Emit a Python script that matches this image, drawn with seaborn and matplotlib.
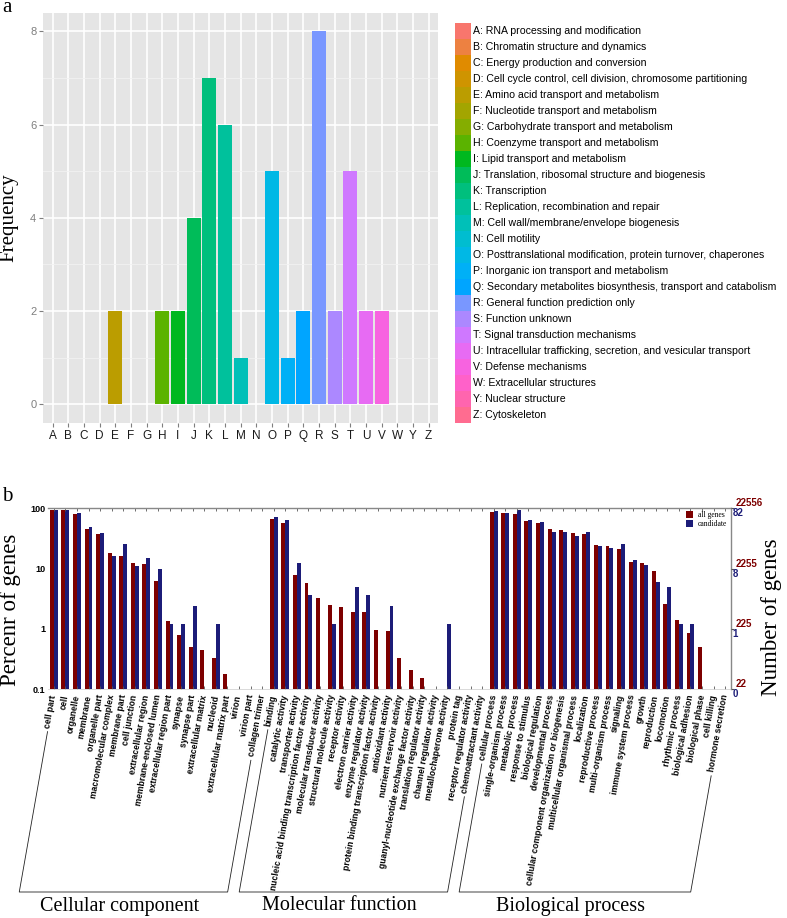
import numpy as np
import pandas as pd
import seaborn as sns
import matplotlib.pyplot as plt
from matplotlib.patches import Patch
from matplotlib.lines import Line2D
from matplotlib.ticker import NullLocator

# ---- panel a: COG classes ----
cog_letters = ["A", "B", "C", "D", "E", "F", "G", "H", "I", "J", "K", "L", "M",
               "N", "O", "P", "Q", "R", "S", "T", "U", "V", "W", "Y", "Z"]
cog_names = [
    "RNA processing and modification",
    "Chromatin structure and dynamics",
    "Energy production and conversion",
    "Cell cycle control, cell division, chromosome partitioning",
    "Amino acid transport and metabolism",
    "Nucleotide transport and metabolism",
    "Carbohydrate transport and metabolism",
    "Coenzyme transport and metabolism",
    "Lipid transport and metabolism",
    "Translation, ribosomal structure and biogenesis",
    "Transcription",
    "Replication, recombination and repair",
    "Cell wall/membrane/envelope biogenesis",
    "Cell motility",
    "Posttranslational modification, protein turnover, chaperones",
    "Inorganic ion transport and metabolism",
    "Secondary metabolites biosynthesis, transport and catabolism",
    "General function prediction only",
    "Function unknown",
    "Signal transduction mechanisms",
    "Intracellular trafficking, secretion, and vesicular transport",
    "Defense mechanisms",
    "Extracellular structures",
    "Nuclear structure",
    "Cytoskeleton",
]
cog_freq = [0, 0, 0, 0, 2, 0, 0, 2, 2, 4, 7, 6, 1, 0, 5, 1, 2, 8, 2, 5, 2, 2, 0, 0, 0]

# ---- panel b: GO categories ----
nan = np.nan
cc_terms = ["cell part", "cell", "organelle", "membrane", "organelle part",
            "macromolecular complex", "membrane part", "cell junction",
            "extracellular region", "membrane-enclosed lumen",
            "extracellular region part", "synapse", "synapse part",
            "extracellular matrix", "nucleoid", "extracellular matrix part",
            "virion", "virion part", "collagen trimer"]
cc_all = [93, 92, 80, 45, 37, 17.9, 16, 12.2, 12, 6.2, 1.37, 0.8, 0.5, 0.44,
          0.33, 0.18, nan, nan, nan]
cc_cand = [94, 92, 84, 49, 39, 16.4, 26, 11.2, 15, 10, 1.22, 1.22, 2.44, nan,
           1.22, nan, nan, nan, nan]

mf_terms = ["binding", "catalytic activity", "transporter activity",
            "nucleic acid binding transcription factor activity",
            "molecular transducer activity", "structural molecule activity",
            "receptor activity", "electron carrier activity",
            "enzyme regulator activity",
            "protein binding transcription factor activity",
            "antioxidant activity", "nutrient reservoir activity",
            "guanyl-nucleotide exchange factor activity",
            "translation regulator activity", "channel regulator activity",
            "metallochaperone activity", "protein tag",
            "receptor regulator activity", "chemoattractant activity"]
mf_all = [66, 56, 7.7, 5.8, 3.3, 2.5, 2.3, 1.9, 1.9, 0.97, 0.92, 0.33, 0.21,
          0.155, nan, nan, nan, nan, nan]
mf_cand = [71, 64, 12.6, 3.7, nan, 1.22, nan, 4.9, 3.7, nan, 2.44, nan, nan,
           nan, nan, 1.22, nan, nan, nan]

bp_terms = ["cellular process", "single-organism process", "metabolic process",
            "response to stimulus", "biological regulation",
            "developmental process",
            "cellular component organization or biogenesis",
            "multicellular organismal process", "localization",
            "reproductive process", "multi-organism process", "signaling",
            "immune system process", "growth", "reproduction", "locomotion",
            "rhythmic process", "biological adhesion", "biological phase",
            "cell killing", "hormone secretion"]
bp_all = [86, 83, 80, 62, 57, 45, 44, 39, 37, 25, 24, 21, 13.1, 12.6, 9.3, 2.6,
          1.43, 0.85, 0.51, nan, nan]
bp_cand = [90, 83, 94, 65, 59, 40.5, 40.5, 34.4, 40.5, 24, 21.7, 25.3, 13.7,
           11.3, 6.1, 4.9, 1.22, 1.22, nan, nan, nan]

go_groups = ["Cellular component", "Molecular function", "Biological process"]
pct_ticks = [0.1, 1, 10, 100]
pct_ticklabels = ["0.1", "1", "10", "100"]
right_ticks_all = ["22", "225", "2255", "22556"]
right_ticks_cand = ["0", "1", "8", "82"]

RED = "#7d0000"
BLUE = "#1c1c78"
SERIF = "Liberation Serif"

plt.rcParams["font.family"] = ["Liberation Sans", "DejaVu Sans"]


def hue_pal(n, c=100, l=65):
    # ggplot2 default discrete palette (HCL hues)
    hues = np.linspace(15, 375, n + 1)[:-1]
    xn, yn, zn = 95.047, 100.0, 108.883
    un = 4 * xn / (xn + 15 * yn + 3 * zn)
    vn = 9 * yn / (xn + 15 * yn + 3 * zn)
    m = np.array([[3.2404542, -1.5371385, -0.4985314],
                  [-0.9692660, 1.8760108, 0.0415560],
                  [0.0556434, -0.2040259, 1.0572252]])
    cols = []
    for h in hues:
        U = c * np.cos(np.radians(h))
        V = c * np.sin(np.radians(h))
        Y = yn * ((l + 16) / 116) ** 3
        u = U / (13 * l) + un
        v = V / (13 * l) + vn
        X = 9 * Y * u / (4 * v)
        Z = 3 * Y / v - X / 3 - 5 * Y
        rgb = m @ (np.array([X, Y, Z]) / 100)
        rgb = np.clip(rgb, 0, None)
        rgb = np.where(rgb <= 0.0031308, 12.92 * rgb,
                       1.055 * np.power(rgb, 1 / 2.4) - 0.055)
        cols.append(tuple(np.clip(rgb, 0, 1)))
    return cols


W, H = 787, 918
fig = plt.figure(figsize=(W / 100, H / 100), dpi=100)

# ---------------- panel a ----------------
cog_colors = hue_pal(len(cog_letters))
ax1 = fig.add_axes([43.3 / W, 1 - 423 / H, (438 - 43.3) / W, (423 - 12.7) / H])
cog_df = pd.DataFrame({"cog": cog_letters, "freq": cog_freq})
sns.barplot(data=cog_df, x="cog", y="freq", hue="cog", order=cog_letters,
            hue_order=cog_letters, palette=cog_colors, saturation=1,
            width=0.9, legend=False, ax=ax1)
ax1.set_facecolor("#E5E5E5")
ax1.set_axisbelow(True)
ax1.set_xlim(-0.6, len(cog_letters) - 0.4)
ax1.set_ylim(-0.4, 8.4)
ax1.set_yticks([0, 2, 4, 6, 8])
ax1.set_yticks([1, 3, 5, 7], minor=True)
ax1.grid(True, which="major", color="white", lw=1.2)
ax1.grid(True, which="minor", axis="y", color="#F2F2F2", lw=0.6)
for s in ax1.spines.values():
    s.set_visible(False)
ax1.tick_params(axis="both", which="major", length=3, color="#7F7F7F",
                width=0.8, labelsize=8)
ax1.tick_params(axis="y", labelcolor="#7F7F7F", pad=2)
ax1.tick_params(axis="x", labelcolor="#1a1a1a", labelsize=8.5, pad=2)
ax1.tick_params(which="minor", length=0)
ax1.set_xlabel("")
ax1.set_ylabel("Frequency", family=SERIF, fontsize=15)
ax1.yaxis.set_label_coords((18 - 43.3) / (438 - 43.3), 0.5)

handles = [Patch(facecolor=c, edgecolor="none") for c in cog_colors]
labels = [f"{k}: {n}" for k, n in zip(cog_letters, cog_names)]
fs = 7.6
key_pt = 16 * 72 / 100
hh = (key_pt / fs - 0.245) / 0.65
fig.legend(handles, labels, loc="upper left",
           bbox_to_anchor=(455 / W, 1 - 23 / H), frameon=False,
           fontsize=fs, borderpad=0, borderaxespad=0,
           handlelength=key_pt / fs, handleheight=hh,
           handletextpad=0.2, labelspacing=0.0)

# ---------------- panel b ----------------
go_terms = cc_terms + mf_terms + bp_terms
go_all = cc_all + mf_all + bp_all
go_cand = cc_cand + mf_cand + bp_cand
go_df = pd.concat([
    pd.DataFrame({"term": go_terms, "set": "all genes", "percent": go_all}),
    pd.DataFrame({"term": go_terms, "set": "candidate", "percent": go_cand}),
]).dropna()

ax_l, ax_r = 48, 731
ax2 = fig.add_axes([ax_l / W, 1 - 689.3 / H, (ax_r - ax_l) / W, 181 / H])
sns.barplot(data=go_df, x="term", y="percent", hue="set", order=go_terms,
            hue_order=["all genes", "candidate"], palette=[RED, BLUE],
            saturation=1, width=0.68, gap=0, errorbar=None, legend=False,
            ax=ax2)
ax2.set_yscale("log")
ax2.set_ylim(0.1, 100)
ax2.set_xlim(-0.5, len(go_terms) - 0.5)
ax2.set_yticks(pct_ticks)
ax2.set_yticklabels(pct_ticklabels, fontsize=6.5, fontweight="bold")
ax2.yaxis.set_minor_locator(NullLocator())
ax2.set_xticks(range(len(go_terms)))
ax2.set_xticklabels(go_terms, rotation=80, ha="right", va="center",
                    rotation_mode="anchor", fontsize=6.2, fontweight="bold")
ax2.tick_params(axis="x", top=True, bottom=True, direction="in", length=2,
                color="#555555", width=0.6, pad=4)
ax2.tick_params(axis="y", length=0, pad=2)
ax2.spines["left"].set_visible(False)
ax2.spines["top"].set_color("#888888")
ax2.spines["top"].set_linewidth(1.0)
ax2.spines["right"].set_color("#888888")
ax2.spines["right"].set_linewidth(1.0)
ax2.spines["bottom"].set_color("#cccccc")
ax2.spines["bottom"].set_linewidth(0.5)
ax2.set_xlabel("")
ax2.set_ylabel("Percenr of genes", family=SERIF, fontsize=16.5)
ax2.yaxis.set_label_coords((21 - ax_l) / (ax_r - ax_l), 0.44)

ax2.legend(handles=[Patch(facecolor=RED), Patch(facecolor=BLUE)],
           labels=["all genes", "candidate"], loc="upper right",
           bbox_to_anchor=((727 - ax_l) / (ax_r - ax_l), 0.985),
           frameon=False, prop={"family": SERIF, "size": 5.5},
           handlelength=0.9, handleheight=0.9, handletextpad=0.6,
           labelspacing=0.15, borderpad=0, borderaxespad=0)

# right-hand counts: all genes (red, above line) and candidates (blue, below)
for tick_text, col, va in [(right_ticks_all, RED, "bottom"),
                           (right_ticks_cand, BLUE, "top")]:
    axr = ax2.twinx()
    axr.set_yscale("log")
    axr.set_ylim(0.1, 100)
    axr.set_yticks(pct_ticks)
    axr.set_yticklabels(tick_text, color=col, fontsize=7, fontweight="bold")
    axr.yaxis.set_minor_locator(NullLocator())
    axr.tick_params(axis="y", length=2 if va == "bottom" else 0,
                    color="#555555", pad=1)
    for t in axr.get_yticklabels():
        t.set_verticalalignment(va)
    for s in axr.spines.values():
        s.set_visible(False)
fig.text(771 / W, 1 - 617 / H, "Number of genes", family=SERIF, fontsize=16.5,
         rotation=90, ha="center", va="center")

# panel letters
fig.text(2 / W, 1 - 8 / H, "a", family=SERIF, fontsize=15, va="center")
fig.text(2 / W, 1 - 496 / H, "b", family=SERIF, fontsize=15, va="center")

# group brackets under the rotated labels
fig.canvas.draw()
renderer = fig.canvas.get_renderer()
ticklabels = ax2.get_xticklabels()
slope = 1 / np.tan(np.radians(80))
y_base = H - 892
bounds = np.cumsum([0, len(cc_terms), len(mf_terms), len(bp_terms)])
for g, name in enumerate(go_groups):
    first = ticklabels[bounds[g]].get_window_extent(renderer)
    last = ticklabels[bounds[g + 1] - 1].get_window_extent(renderer)
    x1, y1 = first.x0 + 4, first.y0 - 3
    x2, y2 = last.x0 + 4, last.y0 - 3
    bx1 = x1 - (y1 - y_base) * slope
    bx2 = x2 - (y2 - y_base) * slope
    xs = np.array([x1, bx1, bx2, x2]) / W
    ys = np.array([y1, y_base, y_base, y2]) / H
    fig.add_artist(Line2D(xs, ys, color="#222222", lw=0.6,
                          transform=fig.transFigure))
    fig.text((bx1 + bx2) / 2 / W - 4 / W, 1 - 906 / H, name, family=SERIF,
             fontsize=14.5, ha="center", va="center")

fig.savefig("out.png", dpi=100)
